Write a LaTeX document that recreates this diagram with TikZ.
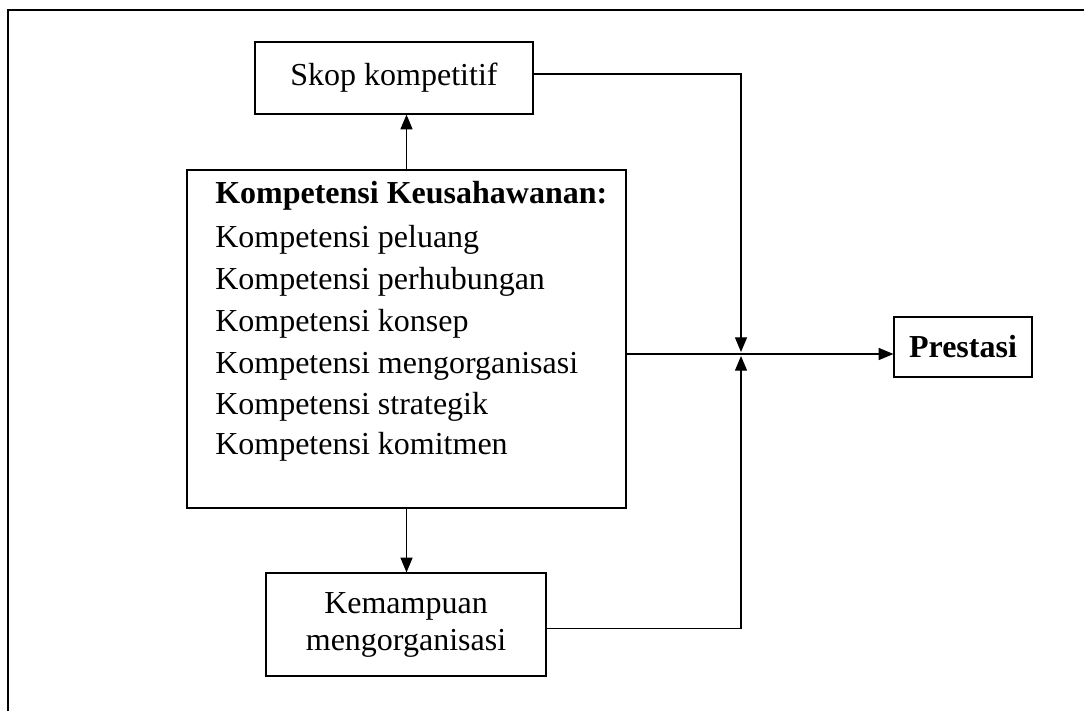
\documentclass[tikz,border=0pt]{standalone}
\usepackage{fontspec}
\setmainfont{Liberation Serif}
\usetikzlibrary{arrows.meta}
\begin{document}
\begin{tikzpicture}[x=0.75pt,y=-0.75pt,
  box/.style={draw, line width=0.9pt, inner sep=0pt, align=center,
              font=\fontsize{24}{27.75}\selectfont},
  conn/.style={line width=0.9pt},
  arr/.style={conn, -{Triangle[length=11pt,width=9pt]}},
  lbl/.style={anchor=base west, inner sep=0pt, font=\fontsize{24}{29}\selectfont}]
\useasboundingbox (0,0) rectangle (1084,711);

% open outer frame
\coordinate (fbl) at (8,711);
\coordinate (ftl) at (8,10);
\coordinate (ftr) at (1084,10);
\draw[conn] (fbl) -- (ftl) -- (ftr);

% boxes
\node[box, minimum width=208.5pt, minimum height=54pt] (skop) at (394,78) {Skop kompetitif};
\node[box, minimum width=329.25pt, minimum height=253.5pt] (main) at (406.5,339) {};
\node[box, minimum width=210pt, minimum height=77.25pt] (kem) at (406,624.5) {Kemampuan\\mengorganisasi};
\node[box, minimum width=103.5pt, minimum height=45pt, font=\fontsize{24}{27.75}\selectfont\bfseries] (pres) at (963,347) {Prestasi};

% contents of the main box
\node[lbl, font=\fontsize{24}{29}\selectfont\bfseries] (t0) at (215,203) {Kompetensi Keusahawanan:};
\node[lbl] (t1) at (215,247) {Kompetensi peluang};
\node[lbl] (t2) at (215,289) {Kompetensi perhubungan};
\node[lbl] (t3) at (215,331) {Kompetensi konsep};
\node[lbl] (t4) at (215,373) {Kompetensi mengorganisasi};
\node[lbl] (t5) at (215,414) {Kompetensi strategik};
\node[lbl] (t6) at (215,454.5) {Kompetensi komitmen};

% junction in front of the outcome
\coordinate (j) at (741,354);
\coordinate (jt) at (741,352);
\coordinate (jb) at (741,356);

% connectors
\draw[arr] (main.north) -- (skop.south -| main.north);
\draw[arr] (main.south) -- (kem.north -| main.south);
\draw[arr] ([yshift=3pt]skop.east) -| (jt);
\draw[arr] ([yshift=-3pt]kem.east) -| (jb);
\draw[arr] (main.east |- j) -- (pres.west |- j);
\end{tikzpicture}
\end{document}
